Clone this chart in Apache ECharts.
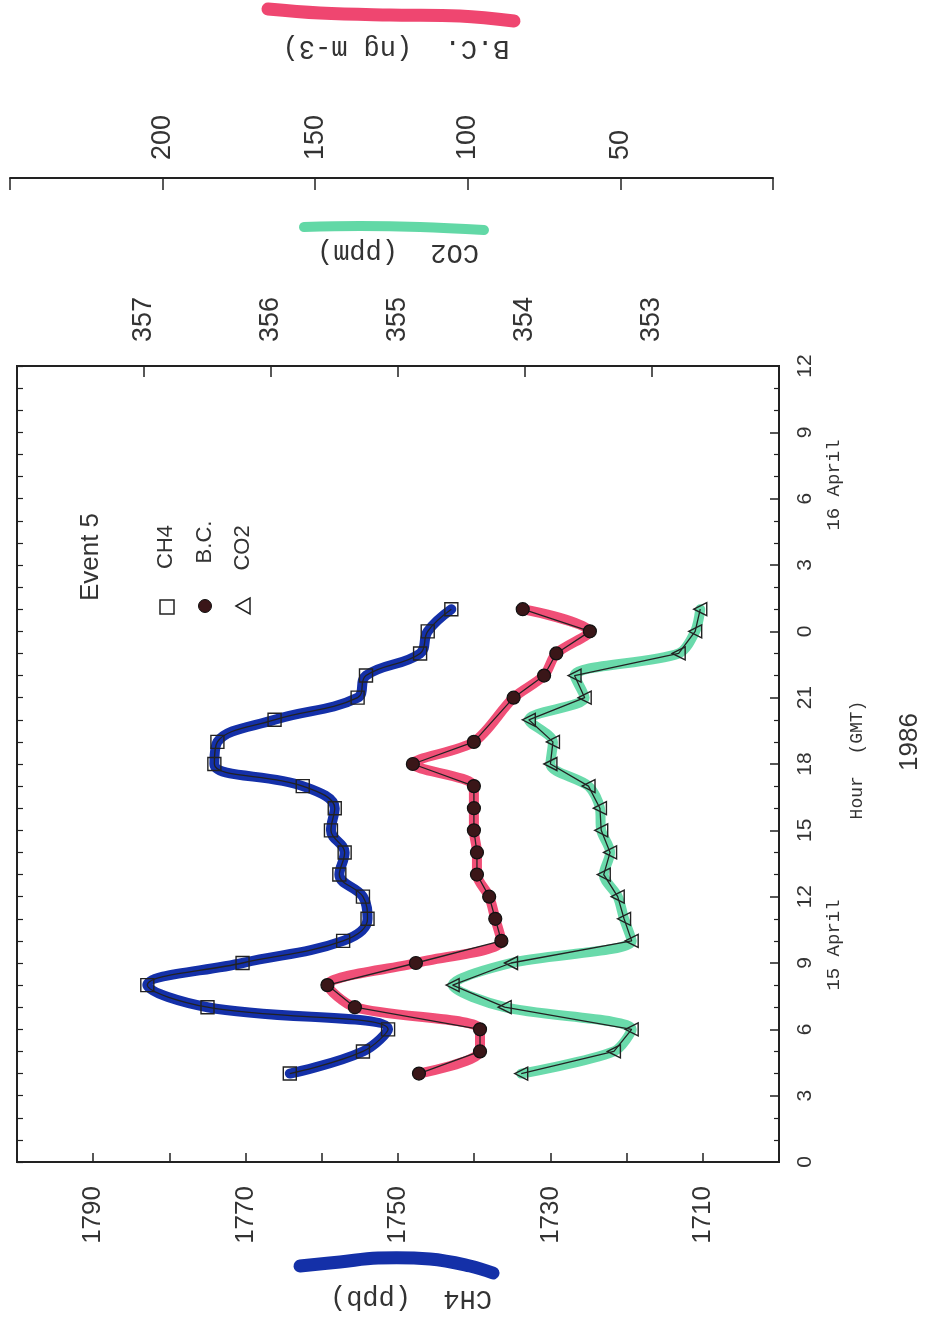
<!DOCTYPE html>
<html>
<head>
<meta charset="utf-8">
<script src="https://cdn.jsdelivr.net/npm/echarts@6/dist/echarts.min.js"></script>
<style>
  html, body { margin: 0; padding: 0; background: #fff; }
  #chart { width: 948px; height: 1321px; }
</style>
</head>
<body>
<div id="chart"></div>
<script>
// ---- data ----
const hoursCH4 = [4,5,6,7,8,9,10,11,12,13,14,15,16,17,18,19,20,21,22,23,24,25];
const ch4 = [1764.2,1754.6,1751.3,1775.0,1782.9,1770.4,1757.2,1754.0,1754.6,1757.7,1757.0,1758.8,1758.3,1762.5,1774.1,1773.7,1766.2,1755.3,1754.2,1747.1,1746.1,1743.0];

const hoursBC = [4,5,6,7,8,9,10,11,12,13,14,15,16,17,18,19,21,22,23,24,25];
const bc = [116,96,96,137,146,117,89,91,93,97,97,98,98,98,118,98,85,75,71,60,82];

const hoursCO2 = [4,5,6,7,8,9,10,11,12,13,14,15,16,17,18,19,20,21,22,23,24,25];
const co2 = [354.03,353.30,353.16,354.16,354.57,354.11,353.16,353.22,353.27,353.38,353.33,353.40,353.41,353.50,353.80,353.78,353.97,353.53,353.61,352.79,352.66,352.62];

const ch4TickLabels = [1710,1730,1750,1770,1790];
const co2TickLabels = [353,354,355,356,357];
const bcTickLabels = [50,100,150,200];
const hourLabelEvery = 3;

const BLUE = '#1430a8', RED = '#ef4670', GREEN = '#62d8a6', INK = '#222';

const pairs = (vals, hrs) => vals.map((v, i) => [v, hrs[i]]);

const chart = echarts.init(document.getElementById('chart'), null, {renderer: 'canvas'});

const tickFont = {fontFamily: 'Liberation Sans', color: '#333'};

const option = {
  backgroundColor: '#fff',
  animation: false,
  grid: [
    {left: 17, right: 169, top: 366, bottom: 159, show: true, borderColor: INK, borderWidth: 2, backgroundColor: 'transparent'},
    {left: 10, right: 175, top: 366, bottom: 159, show: false}
  ],
  xAxis: [
    { // CH4
      gridIndex: 0, type: 'value', position: 'bottom', inverse: true,
      min: 1700, max: 1800, interval: 10,
      axisLine: {show: true, onZero: false, lineStyle: {color: INK, width: 2}},
      axisTick: {show: true, inside: true, length: 9, lineStyle: {color: INK, width: 1.5}},
      splitLine: {show: false},
      axisLabel: Object.assign({rotate: 90, fontSize: 26, margin: 24,
        formatter: v => ch4TickLabels.includes(v) ? String(v) : ''}, tickFont)
    },
    { // CO2
      gridIndex: 0, type: 'value', position: 'top', inverse: true,
      min: 352, max: 358, interval: 1,
      axisLine: {show: true, onZero: false, lineStyle: {color: INK, width: 2}},
      axisTick: {show: true, inside: true, length: 11, lineStyle: {color: INK, width: 1.5}},
      splitLine: {show: false},
      axisLabel: Object.assign({rotate: -90, fontSize: 27, margin: 24,
        formatter: v => co2TickLabels.includes(v) ? String(v) : ''}, tickFont)
    },
    { // B.C.
      gridIndex: 1, type: 'value', position: 'top', inverse: true, offset: 188,
      min: 0, max: 250, interval: 50,
      axisLine: {show: true, onZero: false, lineStyle: {color: INK, width: 2}},
      axisTick: {show: true, inside: true, length: 12, lineStyle: {color: INK, width: 1.5}},
      splitLine: {show: false},
      axisLabel: Object.assign({rotate: -90, fontSize: 27, margin: 18,
        formatter: v => bcTickLabels.includes(v) ? String(v) : ''}, tickFont)
    }
  ],
  yAxis: [
    { // hours
      gridIndex: 0, type: 'value', position: 'right', min: 0, max: 36, interval: hourLabelEvery,
      axisLine: {show: true, onZero: false, lineStyle: {color: INK, width: 2}},
      axisTick: {show: true, inside: true, length: 9, lineStyle: {color: INK, width: 1.5}},
      minorTick: {show: true, splitNumber: 3, length: 5, lineStyle: {color: INK, width: 1.2}},
      splitLine: {show: false},
      axisLabel: Object.assign({rotate: 90, fontSize: 21, margin: 16,
        formatter: v => String(v % 24)}, tickFont)
    },
    {gridIndex: 1, type: 'value', min: 0, max: 36, show: false},
    { // left edge ticks
      gridIndex: 0, type: 'value', position: 'left', min: 0, max: 36, interval: 1,
      axisLine: {show: false, onZero: false},
      axisTick: {show: true, inside: true, length: 6, lineStyle: {color: INK, width: 1.2}},
      axisLabel: {show: false}, splitLine: {show: false}
    }
  ],
  series: [
    // coloured highlighter strokes
    {type: 'line', name: 'CH4 hl', xAxisIndex: 0, yAxisIndex: 0, data: pairs(ch4, hoursCH4),
     smooth: 0.4, symbol: 'none', lineStyle: {color: BLUE, width: 10, cap: 'round', join: 'round'}, z: 2},
    {type: 'line', name: 'BC hl', xAxisIndex: 2, yAxisIndex: 1, data: pairs(bc, hoursBC),
     smooth: 0.3, symbol: 'none', lineStyle: {color: RED, width: 10, cap: 'round', join: 'round', opacity: 0.95}, z: 2},
    {type: 'line', name: 'CO2 hl', xAxisIndex: 1, yAxisIndex: 0, data: pairs(co2, hoursCO2),
     smooth: 0.3, symbol: 'none', lineStyle: {color: GREEN, width: 10, cap: 'round', join: 'round', opacity: 0.95}, z: 2},
    // thin black plotted lines with markers
    {type: 'line', name: 'CH4', xAxisIndex: 0, yAxisIndex: 0, data: pairs(ch4, hoursCH4),
     smooth: 0.4, symbol: 'rect', symbolSize: 13,
     lineStyle: {color: INK, width: 1.3},
     itemStyle: {color: 'rgba(255,255,255,0)', borderColor: INK, borderWidth: 1.4}, z: 3},
    {type: 'line', name: 'B.C.', xAxisIndex: 2, yAxisIndex: 1, data: pairs(bc, hoursBC),
     symbol: 'circle', symbolSize: 13,
     lineStyle: {color: INK, width: 1.3},
     itemStyle: {color: '#3a1618', borderColor: '#111', borderWidth: 1.2}, z: 3},
    {type: 'line', name: 'CO2', xAxisIndex: 1, yAxisIndex: 0, data: pairs(co2, hoursCO2),
     symbol: 'triangle', symbolSize: 13, symbolRotate: 90,
     lineStyle: {color: INK, width: 1.3},
     itemStyle: {color: 'rgba(255,255,255,0)', borderColor: INK, borderWidth: 1.4}, z: 3}
  ],
  graphic: [
    // legend
    {type: 'text', x: 91, y: 557, rotation: Math.PI / 2,
     style: {text: 'Event 5', font: '26px "Liberation Sans"', fill: '#333', align: 'center', verticalAlign: 'middle'}},
    {type: 'text', x: 166, y: 547, rotation: Math.PI / 2,
     style: {text: 'CH4', font: '22px "Liberation Sans"', fill: '#333', align: 'center', verticalAlign: 'middle'}},
    {type: 'text', x: 205, y: 542, rotation: Math.PI / 2,
     style: {text: 'B.C.', font: '22px "Liberation Sans"', fill: '#333', align: 'center', verticalAlign: 'middle'}},
    {type: 'text', x: 243, y: 548, rotation: Math.PI / 2,
     style: {text: 'CO2', font: '22px "Liberation Sans"', fill: '#333', align: 'center', verticalAlign: 'middle'}},
    {type: 'rect', shape: {x: 160, y: 600, width: 14, height: 14},
     style: {fill: 'none', stroke: INK, lineWidth: 1.5}},
    {type: 'circle', shape: {cx: 205, cy: 606, r: 6.5},
     style: {fill: '#3a1618', stroke: '#111', lineWidth: 1}},
    {type: 'polygon', shape: {points: [[236, 606], [250, 598], [250, 614]]},
     style: {fill: 'none', stroke: INK, lineWidth: 1.5}},
    // hour axis annotations
    {type: 'text', x: 834, y: 945, rotation: Math.PI / 2,
     style: {text: '15 April', font: '19px "Liberation Mono"', fill: '#333', align: 'center', verticalAlign: 'middle'}},
    {type: 'text', x: 834, y: 485, rotation: Math.PI / 2,
     style: {text: '16 April', font: '19px "Liberation Mono"', fill: '#333', align: 'center', verticalAlign: 'middle'}},
    {type: 'text', x: 857, y: 760, rotation: Math.PI / 2,
     style: {text: 'Hour  (GMT)', font: '18px "Liberation Mono"', fill: '#333', align: 'center', verticalAlign: 'middle'}},
    {type: 'text', x: 910, y: 742, rotation: Math.PI / 2,
     style: {text: '1986', font: '26px "Liberation Sans"', fill: '#333', align: 'center', verticalAlign: 'middle'}},
    // axis titles (upside down) with highlighter swatches
    {type: 'polyline', shape: {points: [[300, 1266], [340, 1262], [378, 1258], [430, 1259], [470, 1266], [493, 1273]], smooth: 0.4},
     style: {stroke: BLUE, lineWidth: 13, lineCap: 'round', fill: 'none'}},
    {type: 'text', x: 411, y: 1298, rotation: Math.PI,
     style: {text: 'CH4  (ppb)', font: '27px "Liberation Mono"', fill: '#333', align: 'center', verticalAlign: 'middle'}},
    {type: 'polyline', shape: {points: [[304, 227], [360, 226], [420, 227], [484, 230]], smooth: 0.4},
     style: {stroke: GREEN, lineWidth: 10, lineCap: 'round', fill: 'none'}},
    {type: 'text', x: 398, y: 252, rotation: Math.PI,
     style: {text: 'CO2  (ppm)', font: '27px "Liberation Mono"', fill: '#333', align: 'center', verticalAlign: 'middle'}},
    {type: 'polyline', shape: {points: [[268, 9], [320, 13], [390, 15], [460, 16], [514, 21]], smooth: 0.4},
     style: {stroke: RED, lineWidth: 13, lineCap: 'round', fill: 'none'}},
    {type: 'text', x: 396, y: 48, rotation: Math.PI,
     style: {text: 'B.C.  (ng m-3)', font: '27px "Liberation Mono"', fill: '#333', align: 'center', verticalAlign: 'middle'}}
  ]
};
chart.setOption(option);
</script>
</body>
</html>
